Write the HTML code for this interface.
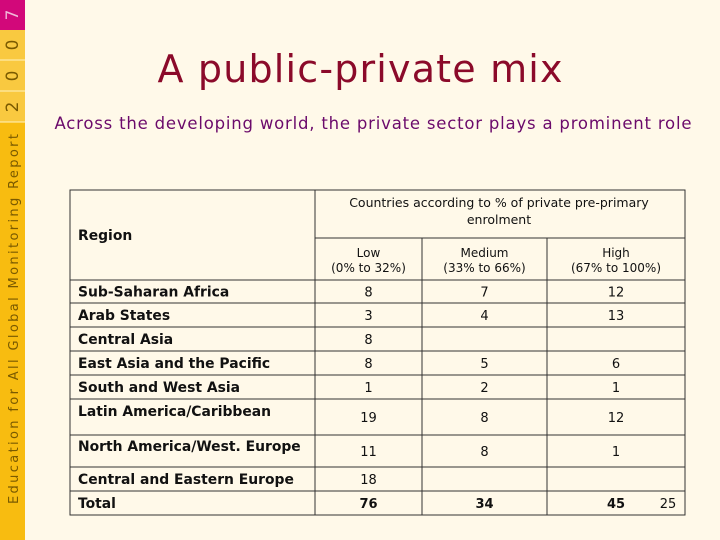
<!DOCTYPE html>
<html><head><meta charset="utf-8"><style>
html,body{margin:0;padding:0;background:#FFF9E9;}
svg{display:block;font-family:"DejaVu Sans","Liberation Sans",sans-serif;}
</style></head><body>
<svg id="s" width="720" height="540" viewBox="0 0 720 540">
<rect width="720" height="540" fill="#FFF9E9"/>
<g>
<rect x="0" y="0" width="25" height="540" fill="#F8BC10"/>
<rect x="0" y="0" width="25" height="30" fill="#D2087A"/>
<rect x="0" y="30" width="25" height="92" fill="#F9C940"/>
<line x1="0" y1="60" x2="25" y2="60" stroke="#FFF4C0" stroke-width="1"/>
<line x1="0" y1="91" x2="25" y2="91" stroke="#FFF4C0" stroke-width="1"/>
<line x1="0" y1="122" x2="25" y2="122" stroke="#FFF4C0" stroke-width="1"/>
<g font-size="17" fill="#7a5a00" text-anchor="middle">
<text transform="translate(18,15) rotate(-90)" dy="0" fill="#f0b8d8">7</text>
<text transform="translate(18,45) rotate(-90)">0</text>
<text transform="translate(18,76) rotate(-90)">0</text>
<text transform="translate(18,107) rotate(-90)">2</text>
</g>
<text transform="translate(18,504) rotate(-90)" font-size="13" fill="#7a5a00" textLength="370">Education for All Global Monitoring Report</text>
</g>
<text x="360" y="82" text-anchor="middle" font-size="38" fill="#8B0A2A" textLength="405">A public-private mix</text>
<text x="373" y="129" text-anchor="middle" font-size="16.5" fill="#6B0A6B" textLength="637">Across the developing world, the private sector plays a prominent role</text>
<g id="tbl" font-size="13" fill="#111"></g>
<text x="668" y="508" text-anchor="middle" font-size="13" fill="#111">25</text>
</svg>
<script>
const regions=["Sub-Saharan Africa","Arab States","Central Asia","East Asia and the Pacific","South and West Asia","Latin America/Caribbean","North America/West. Europe","Central and Eastern Europe","Total"];
const low=["8","3","8","8","1","19","11","18","76"];
const medium=["7","4","","5","2","8","8","","34"];
const high=["12","13","","6","1","12","1","","45"];
const NS="http://www.w3.org/2000/svg";
const g=document.getElementById('tbl');
const X=[70,315,422,547,685];
const rowTop=[280,303,327,351,375,399,435,467,491,515];
const labelDy=[0,0,0,0,0,-6,-5,0,0];
const numDy=[0,0,0,0,0,0,0,0,0];
function mk(tag,attrs){const e=document.createElementNS(NS,tag);for(const k in attrs)e.setAttribute(k,attrs[k]);g.appendChild(e);return e;}
function ln(x1,y1,x2,y2){const e=mk('line',{x1,y1,x2,y2,stroke:'#333','stroke-width':1});

}
function tx(x,y,s,anchor,bold,name,size){const e=mk('text',{x,y,'text-anchor':anchor,'font-weight':bold?'bold':'normal','font-size':size||13});e.textContent=s;


return e;}
const bg=mk('rect',{x:70,y:190,width:615,height:325,fill:'#FFF9E9',stroke:'#333','stroke-width':1});


ln(315,190,315,515);ln(422,238,422,515);ln(547,238,547,515);
ln(315,238,685,238);
rowTop.forEach((y,i)=>{if(i<rowTop.length-1)ln(70,y,685,y);});
tx(499,207,"Countries according to % of private pre-primary","middle",false,"column-group-header",12.5);
tx(499,224,"enrolment","middle",false,"column-group-header",12.5);
tx(78,240,"Region","start",true,"region-header",13.9);
const hdr=[["Low","(0% to 32%)"],["Medium","(33% to 66%)"],["High","(67% to 100%)"]];
hdr.forEach((h,j)=>{const cx=(X[j+1]+X[j+2])/2;tx(cx,257,h[0],"middle",false,"column-header",12);tx(cx,272,h[1],"middle",false,"column-header",12);});
regions.forEach((r,i)=>{const mid=(rowTop[i]+rowTop[i+1])/2;
tx(78,mid+5+labelDy[i],r,"start",true,"region-label",13.9);
const vals=[low[i],medium[i],high[i]];
vals.forEach((v,j)=>{if(v==="")return;const cx=(X[j+1]+X[j+2])/2;tx(cx,mid+5+numDy[i],v,"middle",i===regions.length-1,"cell-value",13);});
});
</script>
</body></html>
